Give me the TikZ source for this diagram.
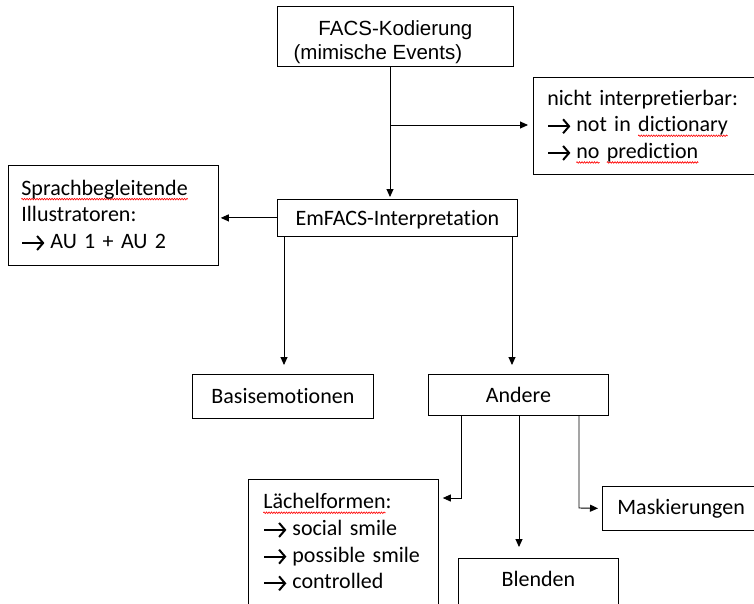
\documentclass[tikz,border=0pt]{standalone}
\usepackage{fontspec}
\setmainfont{Carlito}[Ligatures=NoCommon]
\newfontfamily\arialfont{Liberation Sans}
\usetikzlibrary{arrows.meta,decorations.pathmorphing}
\newcommand\rarr{\tikz[baseline=-5.5pt]\draw[line width=2pt,-{Straight Barb[length=6pt,width=14pt]}] (0pt,0pt) -- (22pt,0pt);\hspace{5pt}}
\newsavebox\spellbox
\newlength\spellwd
\newcommand\spellmark[1]{\sbox\spellbox{#1}\setlength\spellwd{\wd\spellbox}%
  \tikz[overlay,baseline=0pt]\draw[red,line width=0.6pt,decorate,decoration={zigzag,segment length=2.5pt,amplitude=0.8pt}] (0pt,-4pt) -- (\spellwd,-4pt);%
  \usebox\spellbox}

\begin{document}
\begin{tikzpicture}[x=1pt,y=-1pt,
    box/.style={draw,line width=0.8pt,inner sep=0pt,anchor=north west,font=\fontsize{22}{26.7}\selectfont},
    arr/.style={line width=0.9pt,-{Triangle[length=8pt,width=7pt]}}]
    \clip (0,0) rectangle (754,603);
    \node[box,minimum width=236pt,minimum height=60pt,align=center,font=\arialfont\fontsize{20.5}{24.5}\selectfont] (facs) at (277,6) {\rule{0pt}{26pt}FACS-Kodierung\\(mimische Events)\hspace*{35pt}};
    \node[box,minimum width=300pt,minimum height=97pt,inner xsep=14pt,text width=272pt,align=left] (notinterp) at (533,77) {nicht interpretierbar:\\\rarr not in \spellmark{dictionary}\\\rarr \spellmark{no} \spellmark{prediction}};
    \node[box,minimum width=240pt,minimum height=37pt,text depth=0pt] (emfacs) at (277,199) {EmFACS-Interpretation};
    \node[box,minimum width=210pt,minimum height=100pt,inner xsep=13pt,text width=184pt,align=left] (illus) at (8,165) {\spellmark{Sprachbegleitende}\\Illustratoren:\\\rarr AU 1 + AU 2};
    \node[box,minimum width=181pt,minimum height=44pt] (basis) at (192,374) {Basisemotionen};
    \node[box,minimum width=180pt,minimum height=41pt] (andere) at (428,374) {Andere};
    \node[box,minimum width=190pt,minimum height=126pt,inner xsep=15pt,text width=160pt,align=left] (smiles) at (248,479) {\spellmark{Lächelformen}:\\\rarr social smile\\\rarr possible smile\\\rarr controlled};
    \node[box,minimum width=160pt,minimum height=47pt,text depth=6pt] (blend) at (458,558) {Blenden};
    \node[box,minimum width=200pt,minimum height=44pt,inner xsep=15pt,text width=170pt,align=left] (mask) at (602,486) {Maskierungen};

    \coordinate (trunk) at (390,125);
    \coordinate (eL) at (284,0);
    \coordinate (eR) at (512,0);
    \coordinate (aL) at (461,498);
    \coordinate (aM) at (519,0);
    \coordinate (aR) at (579,508);

    \draw[arr,shorten >=2pt] (trunk |- facs.south) -- (trunk |- emfacs.north);
    \draw[arr,shorten >=5pt] (trunk) -- (trunk -| notinterp.west);
    \draw[arr,shorten >=2pt] (emfacs.west) -- (emfacs.west -| illus.east);
    \draw[arr,shorten >=9pt] (eL |- emfacs.south) -- (eL |- basis.north);
    \draw[arr,shorten >=9pt] (eR |- emfacs.south) -- (eR |- andere.north);
    \draw[arr,shorten >=4pt] (aL |- andere.south) -- (aL) -- (aL -| smiles.east);
    \draw[arr,shorten >=11pt] (aM |- andere.south) -- (aM |- blend.north);
    \draw[arr,shorten >=4pt] (aR |- andere.south) -- (aR) -- (mask.west);
\end{tikzpicture}
\end{document}
